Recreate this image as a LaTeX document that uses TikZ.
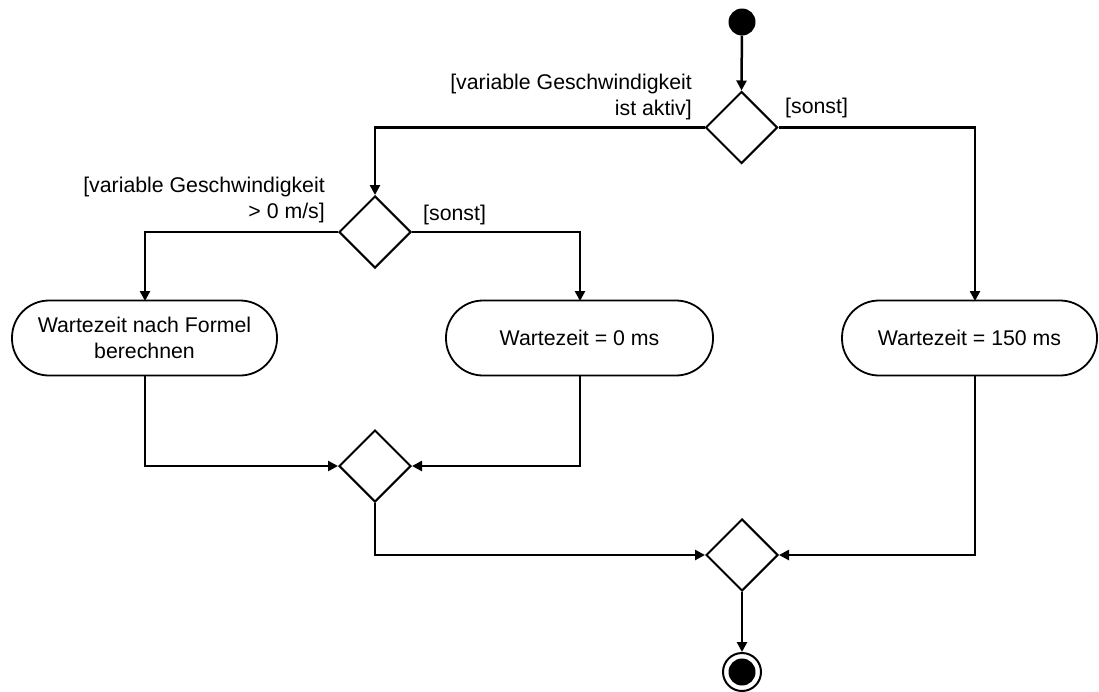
\documentclass[tikz,border=0pt]{standalone}
\usepackage{fontspec}
\setmainfont{Liberation Sans}
\usetikzlibrary{shapes.geometric,arrows.meta}
\begin{document}
\begin{tikzpicture}[x=1pt,y=-1pt,
  font=\fontsize{21.3}{26}\selectfont,
  flow/.style={line width=2.5pt,-{Triangle[length=10pt,width=10pt]}},
  decision/.style={diamond,draw,line width=2pt,minimum size=72pt,inner sep=0pt,aspect=1},
  action/.style={draw,line width=1.8pt,rounded corners=37pt,minimum height=75pt,inner sep=0pt,align=center},
  guard/.style={inner sep=0pt,align=right}
]
\useasboundingbox (0,0) rectangle (1099,691);
% nodes
\node[circle,fill=black,minimum size=27pt,inner sep=0pt] (start) at (742,22) {};
\node[decision] (d1) at (741.5,127.5) {};
\node[decision] (d2) at (375,232) {};
\node[action,minimum width=265pt] (a1) at (144.5,338) {Wartezeit nach Formel\\berechnen};
\node[action,minimum width=267pt] (a2) at (579.5,338) {Wartezeit = 0 ms};
\node[action,minimum width=255pt] (a3) at (969.5,338) {Wartezeit = 150 ms};
\node[decision] (d3) at (375,466) {};
\node[decision] (d4) at (742,555) {};
\node[circle,draw,line width=2pt,minimum size=38pt,inner sep=0pt] (end) at (742,672) {};
\node[circle,fill=black,minimum size=27pt,inner sep=0pt] (endin) at (end.center) {};
% guards
\node[guard,anchor=east] (g1) at (692,97) {[variable Geschwindigkeit\\ist aktiv]};
\node[guard,anchor=west] (g2) at (785,108) {[sonst]};
\node[guard,anchor=east] (g3) at (325,200) {[variable Geschwindigkeit\\> 0 m/s]};
\node[guard,anchor=west] (g4) at (423,215) {[sonst]};
% coordinates for connectors
\coordinate (a1top) at (145,301);
\coordinate (a1bot) at (145,375);
\coordinate (a2top) at (580,301);
\coordinate (a2bot) at (580,375);
\coordinate (a3top) at (975,301);
\coordinate (a3bot) at (975,375);
% connectors
\draw[flow] (start) -- (d1.north);
\draw[flow] (d1.west) -| (d2.north);
\draw[flow] (d1.east) -| (a3top);
\draw[flow] (d2.west) -| (a1top);
\draw[flow] (d2.east) -| (a2top);
\draw[flow] (a1bot) |- (d3.west);
\draw[flow] (a2bot) |- (d3.east);
\draw[flow] (d3.south) |- (d4.west);
\draw[flow] (a3bot) |- (d4.east);
\draw[flow] (d4.south) -- (end.north);
\end{tikzpicture}
\end{document}
